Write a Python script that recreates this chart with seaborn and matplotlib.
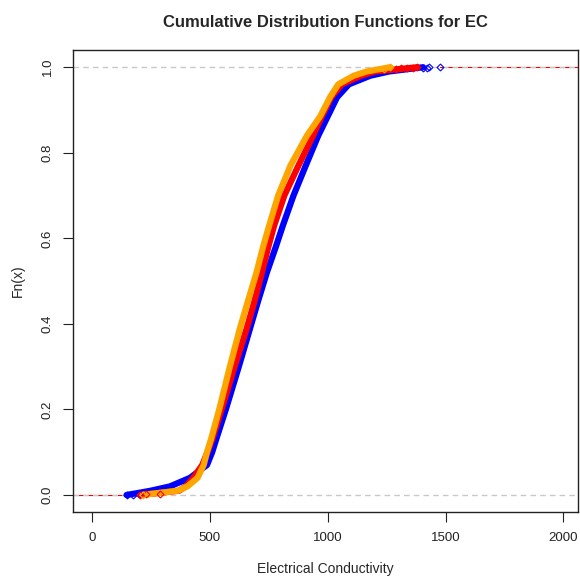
import numpy as np
import pandas as pd
import matplotlib
matplotlib.use("Agg")
import matplotlib.pyplot as plt
import seaborn as sns

# cumulative levels and quantiles
levels = [0.0, 0.005, 0.01, 0.02, 0.04, 0.07, 0.1, 0.13, 0.2, 0.3, 0.39, 0.45,
          0.52, 0.58, 0.63, 0.7, 0.77, 0.84, 0.885, 0.93, 0.96, 0.98, 0.99, 1.0]
blue_x = [147, 200, 250, 331, 416, 488, 510, 527, 568, 623, 671, 703,
          742, 780, 810, 855, 907, 960, 1000, 1040, 1090, 1180, 1260, 1405]
red_x = [204, 289, 370, 398, 430, 468, 490, 510, 550, 605, 657, 688,
         721, 748, 773, 816, 876, 938, 975, 1015, 1060, 1140, 1200, 1380]
orange_x = [215, 289, 365, 405, 448, 474, 488, 505, 540, 585, 628, 660,
            698, 726, 752, 790, 842, 912, 968, 1010, 1045, 1110, 1165, 1265]

# sparse points at the tails
blue_tail_x = [147, 175, 201, 1405, 1420, 1430, 1477]
blue_tail_y = [0.0, 0.0, 0.002, 0.999, 0.999, 1.0, 1.0]
red_tail_x = [204, 230, 289, 1290, 1310, 1335, 1360, 1380]
red_tail_y = [0.0, 0.002, 0.003, 0.997, 0.998, 0.999, 0.999, 1.0]
orange_tail_x = [215, 1240, 1265]
orange_tail_y = [0.0, 0.997, 1.0]

sns.set_style("white")
plt.rcParams['font.family'] = ['Liberation Sans', 'DejaVu Sans']

fig = plt.figure(figsize=(5.8, 5.76), dpi=100)
ax = fig.add_axes([0.126, 0.111, 0.871, 0.802])

x_lo, x_hi = -80, 2063
ax.plot([x_lo, 147], [0, 0], color='red', lw=0.8, zorder=1)
ax.plot([1477, x_hi], [1, 1], color='red', lw=0.8, zorder=1)
ax.axhline(0, color='#c8c8c8', ls=(0, (4, 3)), lw=1, zorder=1.5)
ax.axhline(1, color='#c8c8c8', ls=(0, (4, 3)), lw=1, zorder=1.5)

series = [(blue_x, blue_tail_x, blue_tail_y, 'blue'),
          (red_x, red_tail_x, red_tail_y, 'red'),
          (orange_x, orange_tail_x, orange_tail_y, 'orange')]
for xs, tx, ty, col in series:
    df = pd.DataFrame({'x': xs, 'y': levels})
    sns.lineplot(data=df, x='x', y='y', color=col, lw=4.5, estimator=None,
                 sort=False, ax=ax, zorder=2, solid_capstyle='round',
                 solid_joinstyle='round')
    ax.plot(tx, ty, ls='none', marker='D', ms=3.5, mfc='none', mec=col,
            mew=0.8, zorder=3)

ax.set_xlim(x_lo, x_hi)
ax.set_ylim(-0.04, 1.04)
ax.set_xticks([0, 500, 1000, 1500, 2000])
ax.set_yticks([0, 0.2, 0.4, 0.6, 0.8, 1.0])
ax.set_yticklabels(['0.0', '0.2', '0.4', '0.6', '0.8', '1.0'], rotation=90,
                   va='center')
ax.tick_params(axis='both', direction='out', length=7, width=0.8,
               labelsize=9.5, colors='#222222', pad=7, left=True, bottom=True)
for s in ax.spines.values():
    s.set_color('#222222')
    s.set_linewidth(1)

ax.set_xlabel('Electrical Conductivity', fontsize=10, labelpad=13)
ax.set_ylabel('Fn(x)', fontsize=10, labelpad=12)
ax.set_title('Cumulative Distribution Functions for EC', fontsize=12,
             fontweight='bold', pad=17)

fig.savefig('out.png', dpi=100)
